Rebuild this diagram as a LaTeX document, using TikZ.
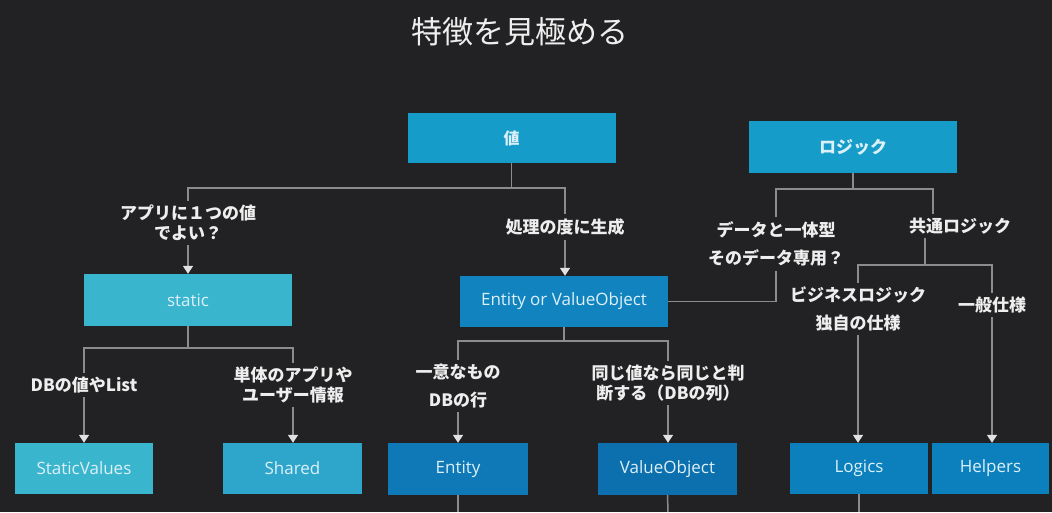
\documentclass[tikz,border=0pt]{standalone}
\usepackage{fontspec}
\setmainfont{Open Sans}
\newfontfamily\jp{Noto Sans CJK JP}
\usetikzlibrary{arrows.meta}
\definecolor{bg}{RGB}{34,34,36}
\definecolor{ln}{RGB}{140,140,140}
\definecolor{tip}{RGB}{225,225,225}
\definecolor{lbl}{RGB}{238,238,238}
\definecolor{btxt}{RGB}{220,240,248}
\definecolor{cA}{RGB}{22,156,200}
\definecolor{cB}{RGB}{58,181,206}
\definecolor{cC}{RGB}{46,166,204}
\definecolor{cD}{RGB}{17,131,191}
\definecolor{cE}{RGB}{15,120,182}
\definecolor{cF}{RGB}{12,111,174}
\definecolor{cG}{RGB}{12,128,189}
\tikzset{
  box/.style={draw=none, minimum width=#1, inner sep=0pt, text=btxt, font=\fontsize{17}{19}\selectfont},
  lab/.style={text=lbl, align=center, inner sep=4pt, font=\jp\bfseries\fontsize{17}{20}\selectfont},
  labw/.style={text=lbl, align=center, inner sep=4pt, font=\jp\bfseries\fontsize{17}{28}\selectfont},
  conn/.style={draw=ln, line width=1.5pt},
  arr/.style={conn, -{Triangle[width=10pt,length=8pt,color=tip]}},
}
\begin{document}
\begin{tikzpicture}[x=1pt,y=-1pt]
\fill[bg] (0,0) rectangle (1052,512);
\useasboundingbox (0,0) rectangle (1052,512);
% title
\node[text=lbl, font=\jp\fontsize{31}{34}\selectfont] (title) at (520,32) {特徴を見極める};
% boxes
\node[box=208pt, minimum height=50pt, fill=cA, font=\jp\bfseries\fontsize{16}{18}\selectfont] (val) at (511.5,138) {値};
\node[box=208pt, minimum height=52pt, fill=cA, font=\jp\bfseries\fontsize{17}{18}\selectfont] (logic) at (853,147) {ロジック};
\node[box=208pt, minimum height=52pt, fill=cB] (static) at (188,300) {static};
\node[box=208pt, minimum height=51pt, fill=cD] (eov) at (564,301.5) {Entity or ValueObject};
\node[box=138pt, minimum height=51pt, fill=cB] (sv) at (84,468.5) {StaticValues};
\node[box=139pt, minimum height=51pt, fill=cC] (shared) at (292.5,468.5) {Shared};
\node[box=140pt, minimum height=52pt, fill=cE] (entity) at (458,469) {Entity};
\node[box=139pt, minimum height=52pt, fill=cF] (vo) at (667.5,469) {ValueObject};
\node[box=138pt, minimum height=51pt, fill=cG] (logics) at (859,468.5) {Logics};
\node[box=117pt, minimum height=51pt, fill=cG] (helpers) at (990.5,468.5) {Helpers};
% labels
\node[lab] (q1) at (188,223) {アプリに１つの値\\でよい？};
\node[lab] (q2) at (565,227) {処理の度に生成};
\node[labw] (q3) at (776,244) {データと一体型\\そのデータ専用？};
\node[lab] (q4) at (960,226) {共通ロジック};
\node[labw] (q5) at (858,309) {ビジネスロジック\\独自の仕様};
\node[lab] (q6) at (992,305) {一般仕様};
\node[lab] (q7) at (84,385) {DBの値やList};
\node[lab] (q8) at (293,385) {単体のアプリや\\ユーザー情報};
\node[labw] (q9) at (458,386) {一意なもの\\DBの行};
\node[lab] (q10) at (668,383) {同じ値なら同じと判\\断する（DBの列）};
% coordinates
\coordinate (s1) at (511.5,188);
\coordinate (s2) at (853,189);
\coordinate (c4) at (933,189);
\coordinate (c5) at (925,265);
\coordinate (s3) at (188,348);
\coordinate (s4) at (564,341);
\coordinate (e1) at (458,512);
\coordinate (e2) at (668,512);
\coordinate (e3) at (859,512);
% value tree
\draw[conn] (val.south) -- (s1);
\draw[conn] (q1.north) |- (s1) -| (q2.north);
\draw[arr] (q1.south) -- (q1.south |- static.north);
\draw[arr] (q2.south) -- (q2.south |- eov.north);
% logic tree
\draw[conn] (logic.south) -- (s2);
\draw[conn] (q3.north) |- (s2) -- (c4) -- (c4 |- q4.north);
\draw[conn] (q3.south) |- (eov.east);
\draw[conn] (c5 |- q4.south) -- (c5);
\draw[conn] (q5.north) |- (c5) -| (q6.north);
\draw[arr] (q5.south) -- (q5.south |- logics.north);
\draw[arr] (q6.south) -- (q6.south |- helpers.north);
% static tree
\draw[conn] (static.south) -- (s3);
\draw[conn] (q7.north) |- (s3) -| (q8.north);
\draw[arr] (q7.south) -- (q7.south |- sv.north);
\draw[arr] (q8.south) -- (q8.south |- shared.north);
% entity tree
\draw[conn] (eov.south) -- (s4);
\draw[conn] (q9.north) |- (s4) -| (q10.north);
\draw[arr] (q9.south) -- (q9.south |- entity.north);
\draw[arr] (q10.south) -- (q10.south |- vo.north);
% continuing lines
\draw[conn] (entity.south) -- (e1);
\draw[conn] (vo.south) -- (e2);
\draw[conn] (logics.south) -- (e3);
\end{tikzpicture}
\end{document}
